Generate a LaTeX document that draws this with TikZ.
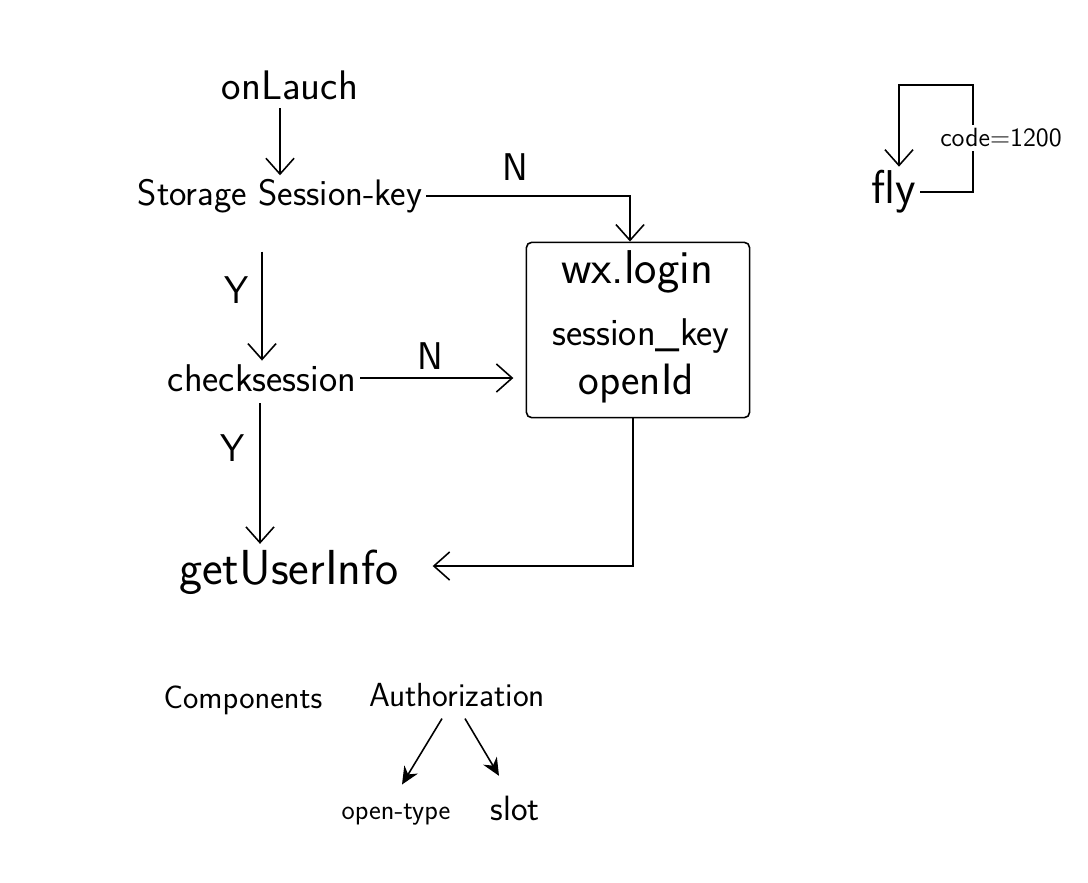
\documentclass[tikz,border=0pt]{standalone}
\usetikzlibrary{arrows.meta,calc}
\newcommand\fsz[1]{\fontsize{#1}{#1}\selectfont}
\begin{document}
\begin{tikzpicture}[x=0.02cm,y=-0.02cm,
  txt/.style={inner sep=2pt,font=\sffamily},
  ln/.style={line width=0.9pt,black},
  arr/.style={ln,-{Straight Barb[length=9pt,width=16pt,line width=0.9pt]}},
  arrf/.style={ln,-{Stealth[length=10pt,width=9pt]}},
  loginbox/.style={draw,line width=0.9pt,rounded corners=3pt,minimum width=224*0.567pt,minimum height=176*0.567pt,inner sep=0pt}]
\useasboundingbox (0,0) rectangle (1088,882);
\fill[white] (0,0) rectangle (1088,882);

% nodes
\node[txt,font=\sffamily\fsz{23.5}] (launch) at (290,85) {onLauch};
\node[txt,font=\sffamily\fsz{21}] (storage) at (280,196) {Storage Session-key};
\node[txt,font=\sffamily\fsz{22}] (check) at (262,378) {checksession};
\node[loginbox] (box) at (638,330) {};
\node[txt,font=\sffamily\fsz{27}] (wx) at (637,272) {wx.login};
\node[txt,font=\sffamily\fsz{22},inner sep=0pt] (skey) at (641,336) {session\_key};
\node[txt,font=\sffamily\fsz{25},inner sep=0pt] (open) at (636,384) {openId};
\node[txt,font=\sffamily\fsz{28}] (info) at (289,572) {getUserInfo};
\node[txt,font=\sffamily\fsz{18.5}] (comp) at (243,700) {Components};
\node[txt,font=\sffamily\fsz{19}] (auth) at (457,695) {Authorization};
\node[txt,font=\sffamily\fsz{16}] (otype) at (396,815) {open-type};
\node[txt,font=\sffamily\fsz{20}] (slot) at (515,808) {slot};
\node[txt,font=\sffamily\fsz{27}] (fly) at (894,192) {fly};

% labels
\node[txt,font=\sffamily\fsz{22}] (n1) at (515,167) {N};
\node[txt,font=\sffamily\fsz{22}] (y1) at (237,290) {Y};
\node[txt,font=\sffamily\fsz{22}] (n2) at (430,356) {N};
\node[txt,font=\sffamily\fsz{22}] (y2) at (233,448) {Y};

% connectors
\draw[arr] ($(launch.south -| storage.north)+(0,5)$) -- (storage.north);
\draw[arr] (storage.east) -- (storage.east -| 630,0) -- (630,0 |- box.north);
\draw[arr] ($(storage.south -| check.north)+(0,35)$) -- (check.north);
\draw[arr,shorten >=7pt] (check.east) -- (check.east -| box.west);
\draw[arr] ($(check.south)+(-2,8)$) -- ($(check.south |- info.north)+(-2,-2)$);
\draw[arr,shorten >=17pt] ($(box.south)+(-5,0)$) |- ($(info.east)+(0,-6)$);
\draw[arrf] ($(auth.south)+(-15,8)$) -- ($(otype.north)+(6,-16)$);
\draw[arrf] ($(auth.south)+(8,8)$) -- ($(slot.north)+(-16,-16)$);

% fly loop
\coordinate (lr) at (973,85);
\coordinate (ll) at (899,85);
\draw[arr] (fly.east) -| (lr) -- (ll) -- (ll |- fly.north);
\node[txt,font=\sffamily\fsz{15},fill=white] (code) at (1001,138) {code=1200};
\end{tikzpicture}
\end{document}
